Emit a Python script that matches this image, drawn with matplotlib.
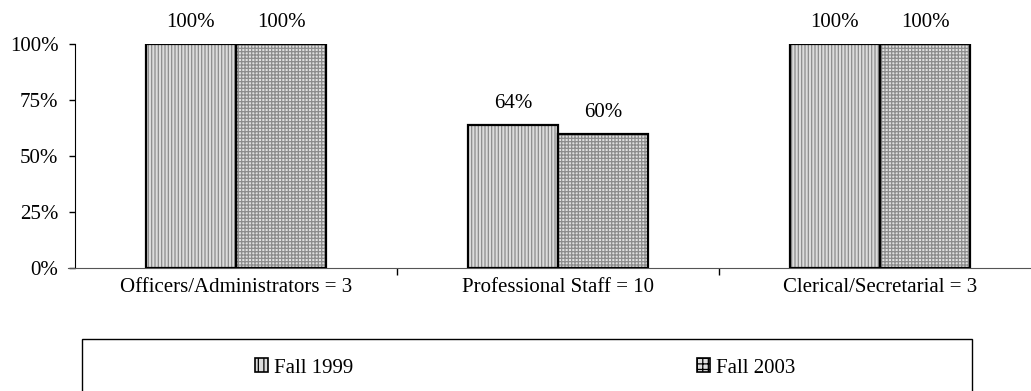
import matplotlib
matplotlib.use("Agg")
import matplotlib.pyplot as plt
from matplotlib.patches import Patch, Rectangle
import numpy as np

categories = ["Officers/Administrators = 3", "Professional Staff = 10", "Clerical/Secretarial = 3"]
series_names = ["Fall 1999", "Fall 2003"]
fall_1999 = [100, 64, 100]
fall_2003 = [100, 60, 100]
y_ticks = [0, 25, 50, 75, 100]

plt.rcParams["font.family"] = ["Liberation Serif", "DejaVu Serif"]
plt.rcParams["font.size"] = 15
plt.rcParams["hatch.linewidth"] = 0.9

W, H = 1031, 391
fig = plt.figure(figsize=(W / 100, H / 100), dpi=100)
ax = fig.add_axes([75 / W, (H - 268) / H, (1041 - 75) / W, 224 / H])

x = np.arange(len(categories))
bw = 0.28
styles = [
    dict(face="#dcdcdc", hatch="|||||", hcol="#8c8c8c"),
    dict(face="#e0e0e0", hatch="+++++", hcol="#8c8c8c"),
]
handles = []
for i, (vals, st, name) in enumerate(zip([fall_1999, fall_2003], styles, series_names)):
    pos = x + (i - 0.5) * bw
    # hatched fill first, then a plain black outline on top
    ax.bar(pos, vals, bw, color=st["face"], hatch=st["hatch"], edgecolor=st["hcol"],
           linewidth=0, zorder=2)
    ax.bar(pos, vals, bw, fill=False, edgecolor="black", linewidth=1.6, zorder=3)
    for xp, v in zip(pos, vals):
        ax.annotate(f"{v}%", (xp, v), xytext=(0, 12), textcoords="offset points",
                    ha="center", va="baseline", fontsize=15)
    handles.append(Patch(facecolor=st["face"], hatch=st["hatch"][:3], edgecolor="black",
                         linewidth=1.2, label=name))

ax.set_xlim(-0.5, 2.5)
ax.set_ylim(0, 100)
ax.set_yticks(y_ticks)
ax.set_yticklabels([f"{t}%" for t in y_ticks])
ax.set_xticks([0.5, 1.5])
ax.set_xticklabels([])
ax.set_xticks(x, minor=True)
ax.set_xticklabels(categories, minor=True)
ax.tick_params(axis="x", which="minor", length=0, pad=7)
ax.tick_params(axis="x", which="major", length=5, width=1, color="black")
ax.tick_params(axis="y", length=4, width=1, pad=8)
for s in ["top", "right"]:
    ax.spines[s].set_visible(False)
ax.spines["left"].set_color("black")
ax.spines["bottom"].set_color("#555555")
ax.spines["bottom"].set_bounds(-0.5 - 7 / 322, 2.5)

# legend frame
fig.patches.append(Rectangle((82 / W, -0.05), (972 - 82) / W, (H - 339) / H + 0.05,
                             transform=fig.transFigure, fill=False, edgecolor="black",
                             linewidth=1.0))
leg = fig.legend(handles=handles, loc="center left", bbox_to_anchor=(255 / W, (H - 368) / H),
                 ncol=2, frameon=False, handlelength=0.62, handleheight=0.62,
                 handletextpad=0.3, columnspacing=16.5, borderaxespad=0, borderpad=0)

fig.savefig("out.png", dpi=100)
